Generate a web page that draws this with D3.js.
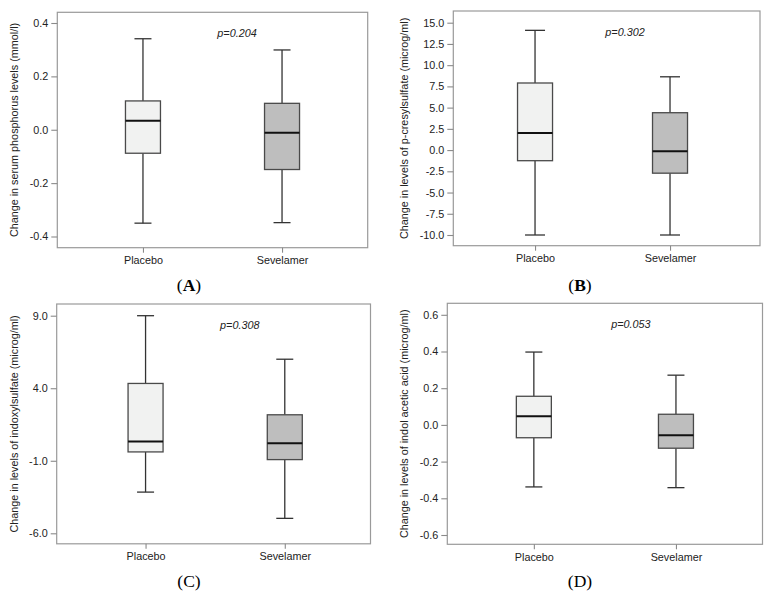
<!DOCTYPE html>
<html>
<head>
<meta charset="utf-8">
<script src="https://cdn.jsdelivr.net/npm/d3@7"></script>
<style>
  html, body { margin: 0; padding: 0; background: #fff; }
  svg { display: block; }
  text { font-family: "Liberation Sans", Arial, sans-serif; fill: #222; }
</style>
</head>
<body>
<svg id="chart" width="773" height="600"></svg>
<script>
// ---------- data ----------
const categories = ["Placebo", "Sevelamer"];
const panelLetters = ["A", "B", "C", "D"];
const yTitles = [
  "Change in serum phosphorus levels (mmol/l)",
  "Change in levels of p-cresylsulfate (microg/ml)",
  "Change in levels of indoxylsulfate (microg/ml)",
  "Change in levels of indol acetic acid (microg/ml)"
];
const pLabels = ["p=0.204", "p=0.302", "p=0.308", "p=0.053"];

const yTicksA = [0.4, 0.2, 0.0, -0.2, -0.4];
const yTickLabelsA = ["0.4", "0.2", "0.0", "-0.2", "-0.4"];
const yTicksB = [15, 12.5, 10, 7.5, 5, 2.5, 0, -2.5, -5, -7.5, -10];
const yTickLabelsB = ["15.0", "12.5", "10.0", "7.5", "5.0", "2.5", "0.0", "-2.5", "-5.0", "-7.5", "-10.0"];
const yTicksC = [9, 4, -1, -6];
const yTickLabelsC = ["9.0", "4.0", "-1.0", "-6.0"];
const yTicksD = [0.6, 0.4, 0.2, 0.0, -0.2, -0.4, -0.6];
const yTickLabelsD = ["0.6", "0.4", "0.2", "0.0", "-0.2", "-0.4", "-0.6"];

// box stats per category: [lower whisker, Q1, median, Q3, upper whisker]
const boxesA = [[-0.350, -0.088, 0.034, 0.108, 0.341], [-0.348, -0.149, -0.011, 0.099, 0.299]];
const boxesB = [[-10.0, -1.25, 2.0, 7.9, 14.1], [-10.0, -2.72, -0.15, 4.4, 8.63]];
const boxesC = [[-3.16, -0.39, 0.32, 4.33, 9.0], [-4.97, -0.92, 0.21, 2.17, 6.0]];
const boxesD = [[-0.338, -0.070, 0.047, 0.156, 0.397], [-0.342, -0.127, -0.057, 0.058, 0.271]];

const fills = ["#f1f2f1", "#bebebe"];

// ---------- layout ----------
const layouts = [
  {x0: 57.3, x1: 367.7, y0: 12.3, y1: 247.7, padT: 10.7, padB: 11.2, pad: 0.616, align: 0.5, cap: 17, titleX: 14.2, labelX: 189, labelY: 291, bold: true},
  {x0: 453.3, x1: 760, y0: 11, y1: 245.7, padT: 11.7, padB: 10.7, pad: 0.636, align: 0.476, cap: 20, titleX: 404, labelX: 580, labelY: 291, bold: true},
  {x0: 56.7, x1: 370.5, y0: 304, y1: 543.8, padT: 11.7, padB: 10.5, pad: 0.627, align: 0.509, cap: 17, titleX: 14, labelX: 189, labelY: 587, bold: false},
  {x0: 447.3, x1: 762.5, y0: 303.3, y1: 544.3, padT: 11.5, padB: 9.3, pad: 0.609, align: 0.5, cap: 17, titleX: 404, labelX: 580, labelY: 587, bold: false}
];
const panels = [
  {ticks: yTicksA, labels: yTickLabelsA, boxes: boxesA},
  {ticks: yTicksB, labels: yTickLabelsB, boxes: boxesB},
  {ticks: yTicksC, labels: yTickLabelsC, boxes: boxesC},
  {ticks: yTicksD, labels: yTickLabelsD, boxes: boxesD}
];

const svg = d3.select("#chart");
const boxW = 35;
const FS = 10.8;

panels.forEach((p, i) => {
  const L = layouts[i];
  const g = svg.append("g");

  const x = d3.scalePoint().domain(categories).range([L.x0, L.x1]).padding(L.pad).align(L.align);
  const y = d3.scaleLinear()
    .domain([d3.min(p.ticks), d3.max(p.ticks)])
    .range([L.y1 - L.padB, L.y0 + L.padT]);

  // frame
  g.append("rect")
    .attr("x", L.x0).attr("y", L.y0)
    .attr("width", L.x1 - L.x0).attr("height", L.y1 - L.y0)
    .attr("fill", "none").attr("stroke", "#9a9a9a").attr("stroke-width", 1.2);

  // y axis
  const yAxis = g.append("g")
    .attr("transform", `translate(${L.x0},0)`)
    .call(d3.axisLeft(y).tickValues(p.ticks).tickFormat((d, k) => p.labels[k]).tickSize(6).tickPadding(3));
  yAxis.select(".domain").remove();
  yAxis.selectAll(".tick line").attr("stroke", "#8a8a8a").attr("stroke-width", 1.1);
  yAxis.selectAll(".tick text").attr("font-size", FS).attr("font-family", "Liberation Sans, Arial, sans-serif").attr("fill", "#222");

  // x axis
  const xAxis = g.append("g")
    .attr("transform", `translate(0,${L.y1})`)
    .call(d3.axisBottom(x).tickSize(5).tickPadding(4));
  xAxis.select(".domain").remove();
  xAxis.selectAll(".tick line").attr("stroke", "#8a8a8a").attr("stroke-width", 1.1);
  xAxis.selectAll(".tick text").attr("font-size", FS).attr("font-family", "Liberation Sans, Arial, sans-serif").attr("fill", "#222");

  // boxes
  categories.forEach((c, k) => {
    const [lo, q1, med, q3, hi] = p.boxes[k];
    const cx = x(c);
    const bg = g.append("g");
    // whiskers
    bg.append("line").attr("x1", cx).attr("x2", cx).attr("y1", y(hi)).attr("y2", y(q3))
      .attr("stroke", "#333").attr("stroke-width", 1.3);
    bg.append("line").attr("x1", cx).attr("x2", cx).attr("y1", y(q1)).attr("y2", y(lo))
      .attr("stroke", "#333").attr("stroke-width", 1.3);
    bg.append("line").attr("x1", cx - L.cap / 2).attr("x2", cx + L.cap / 2).attr("y1", y(hi)).attr("y2", y(hi))
      .attr("stroke", "#333").attr("stroke-width", 1.3);
    bg.append("line").attr("x1", cx - L.cap / 2).attr("x2", cx + L.cap / 2).attr("y1", y(lo)).attr("y2", y(lo))
      .attr("stroke", "#333").attr("stroke-width", 1.3);
    // box
    bg.append("rect")
      .attr("x", cx - boxW / 2).attr("y", y(q3))
      .attr("width", boxW).attr("height", y(q1) - y(q3))
      .attr("fill", fills[k]).attr("stroke", "#4a4a4a").attr("stroke-width", 1.3);
    // median
    bg.append("line").attr("x1", cx - boxW / 2).attr("x2", cx + boxW / 2).attr("y1", y(med)).attr("y2", y(med))
      .attr("stroke", "#111").attr("stroke-width", 2);
  });

  // p value
  g.append("text")
    .attr("x", x(categories[1]) - 45)
    .attr("y", L.y0 + 24.5)
    .attr("text-anchor", "middle")
    .attr("font-size", FS)
    .attr("font-style", "italic")
    .text(pLabels[i]);

  // y title
  g.append("text")
    .attr("transform", `translate(${L.titleX},${(L.y0 + L.y1) / 2}) rotate(-90)`)
    .attr("text-anchor", "middle")
    .attr("dy", "0.35em")
    .attr("font-size", FS)
    .text(yTitles[i]);

  // panel label
  const lab = g.append("text")
    .attr("x", L.labelX).attr("y", L.labelY)
    .attr("text-anchor", "middle")
    .attr("font-size", 17.5)
    .style("font-family", "'Liberation Serif', 'Times New Roman', serif")
    .style("fill", "#000");
  lab.append("tspan").text("(");
  lab.append("tspan").attr("font-weight", L.bold ? "bold" : "normal").text(panelLetters[i]);
  lab.append("tspan").text(")");
});
</script>
</body>
</html>
